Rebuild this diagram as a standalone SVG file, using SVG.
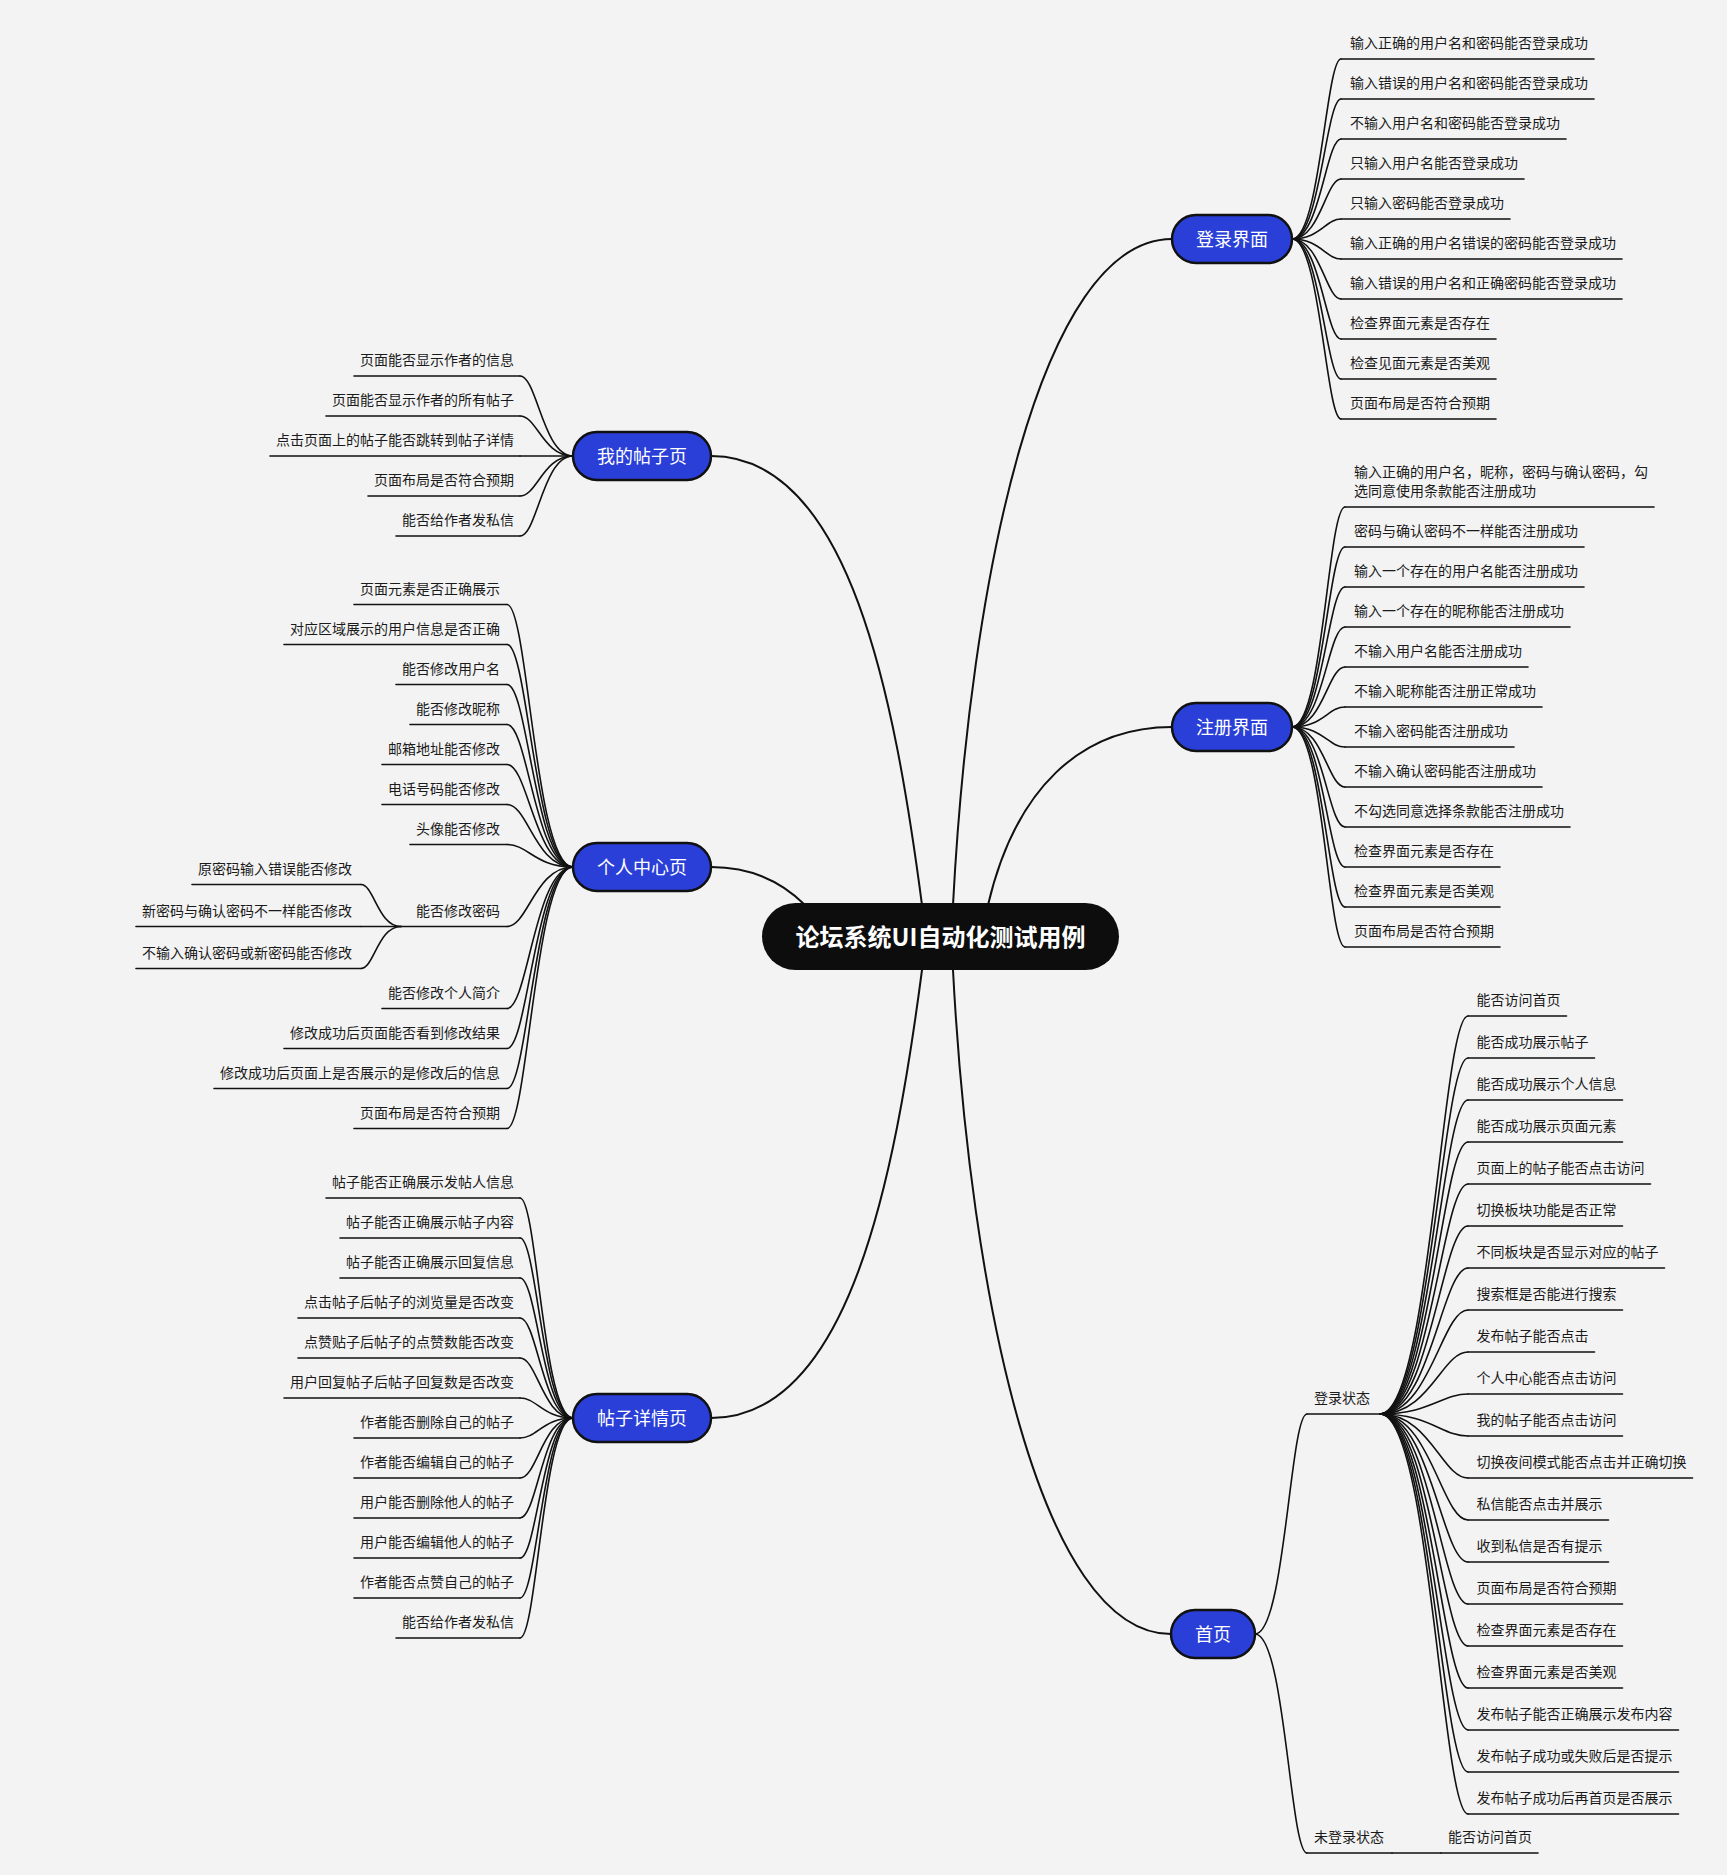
<svg xmlns="http://www.w3.org/2000/svg" width="1727" height="1875" viewBox="0 0 1727 1875">
<style>
.c{fill:none;stroke:#111;stroke-width:1.6;stroke-linecap:round}
.m{fill:none;stroke:#111;stroke-width:2;stroke-linecap:round}
.ul{stroke:#111;stroke-width:1.6;stroke-linecap:round}
.t{font-family:"Noto Sans CJK SC","Noto Sans",sans-serif;font-size:14px;fill:#1a1a1a}
.r{text-anchor:end}
.n1{fill:#2a3fd8;stroke:#111;stroke-width:2.5}
.n1t{font-family:"Noto Sans CJK SC","Noto Sans",sans-serif;font-size:18px;fill:#fff;text-anchor:middle}
.root{fill:#0d0d0d}
.roott{font-family:"Noto Sans CJK SC","Noto Sans",sans-serif;font-size:24px;font-weight:bold;fill:#fff;text-anchor:middle}
</style>
<rect x="0" y="0" width="1727" height="1875" fill="#f3f3f3"/>
<g id="connectors">
<path class="m" d="M953 905C970 580 1040 239 1172 239"/>
<path class="m" d="M988 905C1015 790 1080 727 1172 727"/>
<path class="m" d="M953 970C970 1295 1040 1634 1171 1634"/>
<path class="m" d="M922 905C895 700 850 456 711 456"/>
<path class="m" d="M805 905C785 885 755 867 711 867"/>
<path class="m" d="M922 970C895 1175 850 1418 711 1418"/>
<g id="login-links">
<path class="c" d="M1292 239C1320 239 1326 59 1341 59"/>
<path class="c" d="M1292 239C1320 239 1326 99 1341 99"/>
<path class="c" d="M1292 239C1320 239 1326 139 1341 139"/>
<path class="c" d="M1292 239C1320 239 1326 179 1341 179"/>
<path class="c" d="M1292 239C1320 239 1326 219 1341 219"/>
<path class="c" d="M1292 239C1320 239 1326 259 1341 259"/>
<path class="c" d="M1292 239C1320 239 1326 299 1341 299"/>
<path class="c" d="M1292 239C1320 239 1326 339 1341 339"/>
<path class="c" d="M1292 239C1320 239 1326 379 1341 379"/>
<path class="c" d="M1292 239C1320 239 1326 419 1341 419"/>
</g>
<g id="register-links">
<path class="c" d="M1292 727C1323 727 1328 507 1345 507"/>
<path class="c" d="M1292 727C1323 727 1328 547 1345 547"/>
<path class="c" d="M1292 727C1323 727 1328 587 1345 587"/>
<path class="c" d="M1292 727C1323 727 1328 627 1345 627"/>
<path class="c" d="M1292 727C1323 727 1328 667 1345 667"/>
<path class="c" d="M1292 727C1323 727 1328 707 1345 707"/>
<path class="c" d="M1292 727C1323 727 1328 747 1345 747"/>
<path class="c" d="M1292 727C1323 727 1328 787 1345 787"/>
<path class="c" d="M1292 727C1323 727 1328 827 1345 827"/>
<path class="c" d="M1292 727C1323 727 1328 867 1345 867"/>
<path class="c" d="M1292 727C1323 727 1328 907 1345 907"/>
<path class="c" d="M1292 727C1323 727 1328 947 1345 947"/>
</g>
<g id="home-links">
<path class="c" d="M1255 1634C1285 1634 1290 1414 1307 1414"/>
<path class="c" d="M1255 1634C1285 1634 1290 1853 1307 1853"/>
<path class="c" d="M1392 1853L1441 1853"/>
<path class="c" d="M1380 1414C1430 1414 1442 1016 1468 1016"/>
<path class="c" d="M1380 1414C1430 1414 1442 1058 1468 1058"/>
<path class="c" d="M1380 1414C1430 1414 1442 1100 1468 1100"/>
<path class="c" d="M1380 1414C1430 1414 1442 1142 1468 1142"/>
<path class="c" d="M1380 1414C1430 1414 1442 1184 1468 1184"/>
<path class="c" d="M1380 1414C1430 1414 1442 1226 1468 1226"/>
<path class="c" d="M1380 1414C1430 1414 1442 1268 1468 1268"/>
<path class="c" d="M1380 1414C1430 1414 1442 1310 1468 1310"/>
<path class="c" d="M1380 1414C1430 1414 1442 1352 1468 1352"/>
<path class="c" d="M1380 1414C1430 1414 1442 1394 1468 1394"/>
<path class="c" d="M1380 1414C1430 1414 1442 1436 1468 1436"/>
<path class="c" d="M1380 1414C1430 1414 1442 1478 1468 1478"/>
<path class="c" d="M1380 1414C1430 1414 1442 1520 1468 1520"/>
<path class="c" d="M1380 1414C1430 1414 1442 1562 1468 1562"/>
<path class="c" d="M1380 1414C1430 1414 1442 1604 1468 1604"/>
<path class="c" d="M1380 1414C1430 1414 1442 1646 1468 1646"/>
<path class="c" d="M1380 1414C1430 1414 1442 1688 1468 1688"/>
<path class="c" d="M1380 1414C1430 1414 1442 1730 1468 1730"/>
<path class="c" d="M1380 1414C1430 1414 1442 1772 1468 1772"/>
<path class="c" d="M1380 1414C1430 1414 1442 1814 1468 1814"/>
</g>
<g id="myposts-links">
<path class="c" d="M573 456C543 456 537 376 520 376"/>
<path class="c" d="M573 456C543 456 537 416 520 416"/>
<path class="c" d="M573 456L520 456"/>
<path class="c" d="M573 456C543 456 537 496 520 496"/>
<path class="c" d="M573 456C543 456 537 536 520 536"/>
</g>
<g id="profile-links">
<path class="c" d="M573 867C535 867 528 604.5 507 604.5"/>
<path class="c" d="M573 867C535 867 528 644.5 507 644.5"/>
<path class="c" d="M573 867C535 867 528 684.5 507 684.5"/>
<path class="c" d="M573 867C535 867 528 724.5 507 724.5"/>
<path class="c" d="M573 867C535 867 528 764.5 507 764.5"/>
<path class="c" d="M573 867C535 867 528 804.5 507 804.5"/>
<path class="c" d="M573 867C535 867 528 844.5 507 844.5"/>
<path class="c" d="M573 867C535 867 528 926.5 507 926.5"/>
<path class="c" d="M573 867C535 867 528 1008.5 507 1008.5"/>
<path class="c" d="M573 867C535 867 528 1048.5 507 1048.5"/>
<path class="c" d="M573 867C535 867 528 1088.5 507 1088.5"/>
<path class="c" d="M573 867C535 867 528 1128.5 507 1128.5"/>
<path class="c" d="M401 926.5C378 926.5 374 884.5 361 884.5"/>
<path class="c" d="M401 926.5L361 926.5"/>
<path class="c" d="M401 926.5C378 926.5 374 968.5 361 968.5"/>
</g>
<g id="detail-links">
<path class="c" d="M573 1418C543 1418 537 1198 520 1198"/>
<path class="c" d="M573 1418C543 1418 537 1238 520 1238"/>
<path class="c" d="M573 1418C543 1418 537 1278 520 1278"/>
<path class="c" d="M573 1418C543 1418 537 1318 520 1318"/>
<path class="c" d="M573 1418C543 1418 537 1358 520 1358"/>
<path class="c" d="M573 1418C543 1418 537 1398 520 1398"/>
<path class="c" d="M573 1418C543 1418 537 1438 520 1438"/>
<path class="c" d="M573 1418C543 1418 537 1478 520 1478"/>
<path class="c" d="M573 1418C543 1418 537 1518 520 1518"/>
<path class="c" d="M573 1418C543 1418 537 1558 520 1558"/>
<path class="c" d="M573 1418C543 1418 537 1598 520 1598"/>
<path class="c" d="M573 1418C543 1418 537 1638 520 1638"/>
</g>
</g>

<g id="root"><rect class="root" x="762" y="903" width="357" height="67" rx="33.5"/><text class="roott" x="940.5" y="946">论坛系统UI自动化测试用例</text></g>

<g id="login"><rect class="n1" x="1172" y="215" width="120" height="48" rx="24"/><text class="n1t" x="1232" y="246">登录界面</text></g>
<g id="login-1"><line class="ul" x1="1341" y1="59" x2="1594" y2="59"/><text class="t" x="1350" y="48">输入正确的用户名和密码能否登录成功</text></g>
<g id="login-2"><line class="ul" x1="1341" y1="99" x2="1594" y2="99"/><text class="t" x="1350" y="88">输入错误的用户名和密码能否登录成功</text></g>
<g id="login-3"><line class="ul" x1="1341" y1="139" x2="1566" y2="139"/><text class="t" x="1350" y="128">不输入用户名和密码能否登录成功</text></g>
<g id="login-4"><line class="ul" x1="1341" y1="179" x2="1524" y2="179"/><text class="t" x="1350" y="168">只输入用户名能否登录成功</text></g>
<g id="login-5"><line class="ul" x1="1341" y1="219" x2="1510" y2="219"/><text class="t" x="1350" y="208">只输入密码能否登录成功</text></g>
<g id="login-6"><line class="ul" x1="1341" y1="259" x2="1622" y2="259"/><text class="t" x="1350" y="248">输入正确的用户名错误的密码能否登录成功</text></g>
<g id="login-7"><line class="ul" x1="1341" y1="299" x2="1622" y2="299"/><text class="t" x="1350" y="288">输入错误的用户名和正确密码能否登录成功</text></g>
<g id="login-8"><line class="ul" x1="1341" y1="339" x2="1496" y2="339"/><text class="t" x="1350" y="328">检查界面元素是否存在</text></g>
<g id="login-9"><line class="ul" x1="1341" y1="379" x2="1496" y2="379"/><text class="t" x="1350" y="368">检查见面元素是否美观</text></g>
<g id="login-10"><line class="ul" x1="1341" y1="419" x2="1496" y2="419"/><text class="t" x="1350" y="408">页面布局是否符合预期</text></g>

<g id="register"><rect class="n1" x="1172" y="703" width="120" height="48" rx="24"/><text class="n1t" x="1232" y="734">注册界面</text></g>
<g id="reg-1"><line class="ul" x1="1345" y1="507" x2="1654" y2="507"/><text class="t" x="1354" y="477">输入正确的用户名，昵称，密码与确认密码，勾<tspan x="1354" y="496">选同意使用条款能否注册成功</tspan></text></g>
<g id="reg-2"><line class="ul" x1="1345" y1="547" x2="1584" y2="547"/><text class="t" x="1354" y="536">密码与确认密码不一样能否注册成功</text></g>
<g id="reg-3"><line class="ul" x1="1345" y1="587" x2="1584" y2="587"/><text class="t" x="1354" y="576">输入一个存在的用户名能否注册成功</text></g>
<g id="reg-4"><line class="ul" x1="1345" y1="627" x2="1570" y2="627"/><text class="t" x="1354" y="616">输入一个存在的昵称能否注册成功</text></g>
<g id="reg-5"><line class="ul" x1="1345" y1="667" x2="1528" y2="667"/><text class="t" x="1354" y="656">不输入用户名能否注册成功</text></g>
<g id="reg-6"><line class="ul" x1="1345" y1="707" x2="1542" y2="707"/><text class="t" x="1354" y="696">不输入昵称能否注册正常成功</text></g>
<g id="reg-7"><line class="ul" x1="1345" y1="747" x2="1514" y2="747"/><text class="t" x="1354" y="736">不输入密码能否注册成功</text></g>
<g id="reg-8"><line class="ul" x1="1345" y1="787" x2="1542" y2="787"/><text class="t" x="1354" y="776">不输入确认密码能否注册成功</text></g>
<g id="reg-9"><line class="ul" x1="1345" y1="827" x2="1570" y2="827"/><text class="t" x="1354" y="816">不勾选同意选择条款能否注册成功</text></g>
<g id="reg-10"><line class="ul" x1="1345" y1="867" x2="1500" y2="867"/><text class="t" x="1354" y="856">检查界面元素是否存在</text></g>
<g id="reg-11"><line class="ul" x1="1345" y1="907" x2="1500" y2="907"/><text class="t" x="1354" y="896">检查界面元素是否美观</text></g>
<g id="reg-12"><line class="ul" x1="1345" y1="947" x2="1500" y2="947"/><text class="t" x="1354" y="936">页面布局是否符合预期</text></g>

<g id="home"><rect class="n1" x="1171" y="1610" width="84" height="48" rx="24"/><text class="n1t" x="1213" y="1641">首页</text></g>
<g id="home-login"><line class="ul" x1="1307" y1="1414" x2="1380" y2="1414"/><text class="t" x="1314" y="1403">登录状态</text></g>
<g id="home-guest"><line class="ul" x1="1307" y1="1853" x2="1392" y2="1853"/><text class="t" x="1314" y="1842">未登录状态</text></g>
<g id="guest-1"><line class="ul" x1="1441" y1="1853" x2="1538" y2="1853"/><text class="t" x="1448" y="1842">能否访问首页</text></g>
<g id="h-1"><line class="ul" x1="1468" y1="1016" x2="1566.5" y2="1016"/><text class="t" x="1476.5" y="1005">能否访问首页</text></g>
<g id="h-2"><line class="ul" x1="1468" y1="1058" x2="1594.5" y2="1058"/><text class="t" x="1476.5" y="1047">能否成功展示帖子</text></g>
<g id="h-3"><line class="ul" x1="1468" y1="1100" x2="1622.5" y2="1100"/><text class="t" x="1476.5" y="1089">能否成功展示个人信息</text></g>
<g id="h-4"><line class="ul" x1="1468" y1="1142" x2="1622.5" y2="1142"/><text class="t" x="1476.5" y="1131">能否成功展示页面元素</text></g>
<g id="h-5"><line class="ul" x1="1468" y1="1184" x2="1650.5" y2="1184"/><text class="t" x="1476.5" y="1173">页面上的帖子能否点击访问</text></g>
<g id="h-6"><line class="ul" x1="1468" y1="1226" x2="1622.5" y2="1226"/><text class="t" x="1476.5" y="1215">切换板块功能是否正常</text></g>
<g id="h-7"><line class="ul" x1="1468" y1="1268" x2="1664.5" y2="1268"/><text class="t" x="1476.5" y="1257">不同板块是否显示对应的帖子</text></g>
<g id="h-8"><line class="ul" x1="1468" y1="1310" x2="1622.5" y2="1310"/><text class="t" x="1476.5" y="1299">搜索框是否能进行搜索</text></g>
<g id="h-9"><line class="ul" x1="1468" y1="1352" x2="1594.5" y2="1352"/><text class="t" x="1476.5" y="1341">发布帖子能否点击</text></g>
<g id="h-10"><line class="ul" x1="1468" y1="1394" x2="1622.5" y2="1394"/><text class="t" x="1476.5" y="1383">个人中心能否点击访问</text></g>
<g id="h-11"><line class="ul" x1="1468" y1="1436" x2="1622.5" y2="1436"/><text class="t" x="1476.5" y="1425">我的帖子能否点击访问</text></g>
<g id="h-12"><line class="ul" x1="1468" y1="1478" x2="1692.5" y2="1478"/><text class="t" x="1476.5" y="1467">切换夜间模式能否点击并正确切换</text></g>
<g id="h-13"><line class="ul" x1="1468" y1="1520" x2="1608.5" y2="1520"/><text class="t" x="1476.5" y="1509">私信能否点击并展示</text></g>
<g id="h-14"><line class="ul" x1="1468" y1="1562" x2="1608.5" y2="1562"/><text class="t" x="1476.5" y="1551">收到私信是否有提示</text></g>
<g id="h-15"><line class="ul" x1="1468" y1="1604" x2="1622.5" y2="1604"/><text class="t" x="1476.5" y="1593">页面布局是否符合预期</text></g>
<g id="h-16"><line class="ul" x1="1468" y1="1646" x2="1622.5" y2="1646"/><text class="t" x="1476.5" y="1635">检查界面元素是否存在</text></g>
<g id="h-17"><line class="ul" x1="1468" y1="1688" x2="1622.5" y2="1688"/><text class="t" x="1476.5" y="1677">检查界面元素是否美观</text></g>
<g id="h-18"><line class="ul" x1="1468" y1="1730" x2="1678.5" y2="1730"/><text class="t" x="1476.5" y="1719">发布帖子能否正确展示发布内容</text></g>
<g id="h-19"><line class="ul" x1="1468" y1="1772" x2="1678.5" y2="1772"/><text class="t" x="1476.5" y="1761">发布帖子成功或失败后是否提示</text></g>
<g id="h-20"><line class="ul" x1="1468" y1="1814" x2="1678.5" y2="1814"/><text class="t" x="1476.5" y="1803">发布帖子成功后再首页是否展示</text></g>

<g id="myposts"><rect class="n1" x="573" y="432" width="138" height="48" rx="24"/><text class="n1t" x="642" y="463">我的帖子页</text></g>
<g id="mp-1"><line class="ul" x1="520" y1="376" x2="354" y2="376"/><text class="t r" x="514" y="365">页面能否显示作者的信息</text></g>
<g id="mp-2"><line class="ul" x1="520" y1="416" x2="326" y2="416"/><text class="t r" x="514" y="405">页面能否显示作者的所有帖子</text></g>
<g id="mp-3"><line class="ul" x1="520" y1="456" x2="270" y2="456"/><text class="t r" x="514" y="445">点击页面上的帖子能否跳转到帖子详情</text></g>
<g id="mp-4"><line class="ul" x1="520" y1="496" x2="368" y2="496"/><text class="t r" x="514" y="485">页面布局是否符合预期</text></g>
<g id="mp-5"><line class="ul" x1="520" y1="536" x2="396" y2="536"/><text class="t r" x="514" y="525">能否给作者发私信</text></g>

<g id="profile"><rect class="n1" x="573" y="843" width="138" height="48" rx="24"/><text class="n1t" x="642" y="874">个人中心页</text></g>
<g id="pf-1"><line class="ul" x1="507" y1="604.5" x2="354" y2="604.5"/><text class="t r" x="500" y="593.5">页面元素是否正确展示</text></g>
<g id="pf-2"><line class="ul" x1="507" y1="644.5" x2="284" y2="644.5"/><text class="t r" x="500" y="633.5">对应区域展示的用户信息是否正确</text></g>
<g id="pf-3"><line class="ul" x1="507" y1="684.5" x2="396" y2="684.5"/><text class="t r" x="500" y="673.5">能否修改用户名</text></g>
<g id="pf-4"><line class="ul" x1="507" y1="724.5" x2="410" y2="724.5"/><text class="t r" x="500" y="713.5">能否修改昵称</text></g>
<g id="pf-5"><line class="ul" x1="507" y1="764.5" x2="382" y2="764.5"/><text class="t r" x="500" y="753.5">邮箱地址能否修改</text></g>
<g id="pf-6"><line class="ul" x1="507" y1="804.5" x2="382" y2="804.5"/><text class="t r" x="500" y="793.5">电话号码能否修改</text></g>
<g id="pf-7"><line class="ul" x1="507" y1="844.5" x2="410" y2="844.5"/><text class="t r" x="500" y="833.5">头像能否修改</text></g>
<g id="pf-8"><line class="ul" x1="507" y1="926.5" x2="401" y2="926.5"/><text class="t r" x="500" y="915.5">能否修改密码</text></g>
<g id="pf-8-1"><line class="ul" x1="361" y1="884.5" x2="192" y2="884.5"/><text class="t r" x="352" y="873.5">原密码输入错误能否修改</text></g>
<g id="pf-8-2"><line class="ul" x1="361" y1="926.5" x2="136" y2="926.5"/><text class="t r" x="352" y="915.5">新密码与确认密码不一样能否修改</text></g>
<g id="pf-8-3"><line class="ul" x1="361" y1="968.5" x2="136" y2="968.5"/><text class="t r" x="352" y="957.5">不输入确认密码或新密码能否修改</text></g>
<g id="pf-9"><line class="ul" x1="507" y1="1008.5" x2="382" y2="1008.5"/><text class="t r" x="500" y="997.5">能否修改个人简介</text></g>
<g id="pf-10"><line class="ul" x1="507" y1="1048.5" x2="284" y2="1048.5"/><text class="t r" x="500" y="1037.5">修改成功后页面能否看到修改结果</text></g>
<g id="pf-11"><line class="ul" x1="507" y1="1088.5" x2="214" y2="1088.5"/><text class="t r" x="500" y="1077.5">修改成功后页面上是否展示的是修改后的信息</text></g>
<g id="pf-12"><line class="ul" x1="507" y1="1128.5" x2="354" y2="1128.5"/><text class="t r" x="500" y="1117.5">页面布局是否符合预期</text></g>

<g id="detail"><rect class="n1" x="573" y="1394" width="138" height="48" rx="24"/><text class="n1t" x="642" y="1425">帖子详情页</text></g>
<g id="dt-1"><line class="ul" x1="520" y1="1198" x2="326" y2="1198"/><text class="t r" x="514" y="1187">帖子能否正确展示发帖人信息</text></g>
<g id="dt-2"><line class="ul" x1="520" y1="1238" x2="340" y2="1238"/><text class="t r" x="514" y="1227">帖子能否正确展示帖子内容</text></g>
<g id="dt-3"><line class="ul" x1="520" y1="1278" x2="340" y2="1278"/><text class="t r" x="514" y="1267">帖子能否正确展示回复信息</text></g>
<g id="dt-4"><line class="ul" x1="520" y1="1318" x2="298" y2="1318"/><text class="t r" x="514" y="1307">点击帖子后帖子的浏览量是否改变</text></g>
<g id="dt-5"><line class="ul" x1="520" y1="1358" x2="298" y2="1358"/><text class="t r" x="514" y="1347">点赞贴子后帖子的点赞数能否改变</text></g>
<g id="dt-6"><line class="ul" x1="520" y1="1398" x2="284" y2="1398"/><text class="t r" x="514" y="1387">用户回复帖子后帖子回复数是否改变</text></g>
<g id="dt-7"><line class="ul" x1="520" y1="1438" x2="354" y2="1438"/><text class="t r" x="514" y="1427">作者能否删除自己的帖子</text></g>
<g id="dt-8"><line class="ul" x1="520" y1="1478" x2="354" y2="1478"/><text class="t r" x="514" y="1467">作者能否编辑自己的帖子</text></g>
<g id="dt-9"><line class="ul" x1="520" y1="1518" x2="354" y2="1518"/><text class="t r" x="514" y="1507">用户能否删除他人的帖子</text></g>
<g id="dt-10"><line class="ul" x1="520" y1="1558" x2="354" y2="1558"/><text class="t r" x="514" y="1547">用户能否编辑他人的帖子</text></g>
<g id="dt-11"><line class="ul" x1="520" y1="1598" x2="354" y2="1598"/><text class="t r" x="514" y="1587">作者能否点赞自己的帖子</text></g>
<g id="dt-12"><line class="ul" x1="520" y1="1638" x2="396" y2="1638"/><text class="t r" x="514" y="1627">能否给作者发私信</text></g>
</svg>
